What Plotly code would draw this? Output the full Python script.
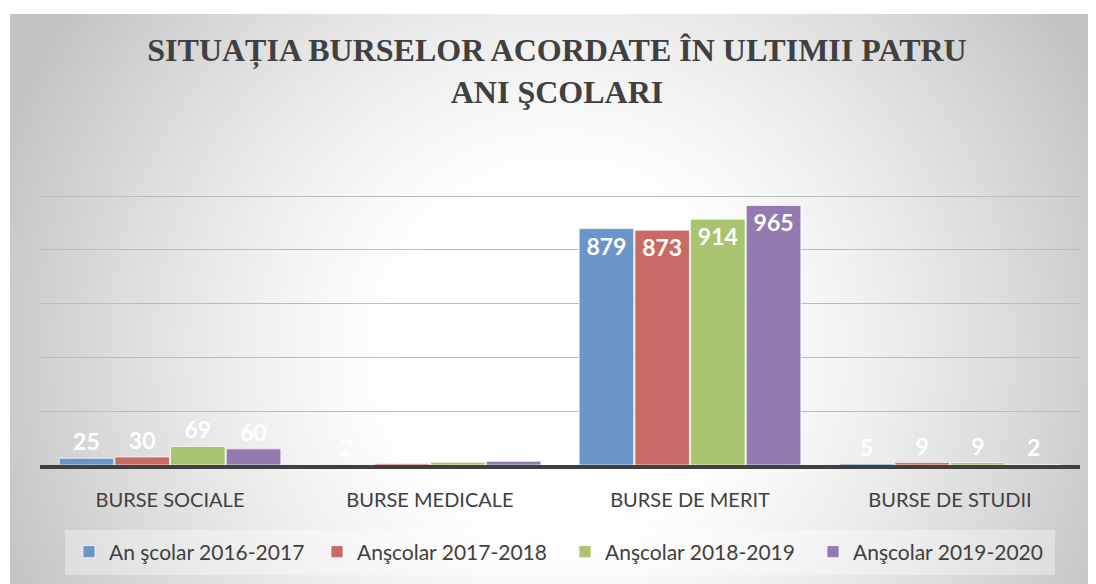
import zlib, struct, base64
import numpy as np
import plotly.graph_objects as go

categories = ["BURSE SOCIALE", "BURSE MEDICALE", "BURSE DE MERIT", "BURSE DE STUDII"]
series_names = ["An şcolar 2016-2017", "Anşcolar 2017-2018", "Anşcolar 2018-2019", "Anşcolar 2019-2020"]
values_2016_2017 = [25, 2, 879, 5]
values_2017_2018 = [30, 5, 873, 9]
values_2018_2019 = [69, 10, 914, 9]
values_2019_2020 = [60, 14, 965, 2]
series_values = [values_2016_2017, values_2017_2018, values_2018_2019, values_2019_2020]
colors = ["#6a95c8", "#c96a66", "#a9c46e", "#937ab0"]
title_text = "<b>SITUAȚIA BURSELOR ACORDATE ÎN ULTIMII PATRU<br>ANI ŞCOLARI</b>"

W, H = 1096, 584
OFF = 8  # page body margin offset
# screen positions of the plot area
SX0, SX1, SY0, SY1 = 40, 1080, 142, 465
ML, MT = SX0 - OFF, SY0 - OFF
MR, MB = W - (SX1 - OFF), H - (SY1 - OFF)
PW, PH = SX1 - SX0, SY1 - SY0

def px_x(sx):  # screen x -> paper x
    return (sx - SX0) / PW

def px_y(sy):  # screen y -> paper y
    return (SY1 - sy) / PH

# radial gradient background image (style only)
def png_uri(arr):
    h, w, _ = arr.shape
    raw = b"".join(b"\x00" + arr[i].tobytes() for i in range(h))
    def chunk(t, d):
        c = struct.pack(">I", len(d)) + t + d
        return c + struct.pack(">I", zlib.crc32(t + d) & 0xffffffff)
    png = (b"\x89PNG\r\n\x1a\n" + chunk(b"IHDR", struct.pack(">IIBBBBB", w, h, 8, 2, 0, 0, 0))
           + chunk(b"IDAT", zlib.compress(raw, 9)) + chunk(b"IEND", b""))
    return "data:image/png;base64," + base64.b64encode(png).decode()

fx0, fy0, fx1, fy1 = 10, 14, 1096 + OFF, 584 + OFF
fw, fh = fx1 - fx0, fy1 - fy0
sc = 2
gx = (np.arange(fw // sc) * sc + fx0)[None, :]
gy = (np.arange(fh // sc) * sc + fy0)[:, None]
t = np.sqrt((gx - 560.0) ** 2 + (gy - 350.0) ** 2) / 545.0
v = 255 - 60 * np.clip((t - 0.3) / 0.8, 0, 1) ** 1.3
v = np.clip(v, 0, 255).astype(np.uint8)
img = np.stack([v, v, v], axis=-1)
bg_uri = png_uri(img)

FONT = "Lato"
fig = go.Figure()
for name, vals, col in zip(series_names, series_values, colors):
    lab = dict(family=FONT, size=23, color="white", weight="bold")
    fig.add_trace(go.Bar(
        x=categories, y=vals, name=name,
        marker=dict(color=col, line=dict(color="rgba(255,255,255,0.7)", width=1)),
        text=[str(x) for x in vals],
        textposition=["inside" if x > 100 else "outside" for x in vals],
        insidetextanchor="end",
        textangle=0,
        textfont=lab, outsidetextfont=lab, insidetextfont=lab,
        cliponaxis=False,
    ))

fig.update_layout(
    width=W, height=H,
    margin=dict(l=ML, r=MR, t=MT, b=MB),
    paper_bgcolor="white",
    plot_bgcolor="rgba(0,0,0,0)",
    barmode="group",
    bargap=0.143,
    bargroupgap=0.02,
    title=dict(text=title_text, x=(557 - OFF) / W, xanchor="center", y=1 - 53 / H, yanchor="top",
               font=dict(family="Liberation Serif", size=32, color="#404040")),
    showlegend=True,
    legend=dict(orientation="h", x=px_x(69), xanchor="left",
                y=px_y(552), yanchor="middle",
                bgcolor="rgba(0,0,0,0)", font=dict(family=FONT, size=21, color="#404040"),
                entrywidth=203, entrywidthmode="pixels", itemwidth=30),
    images=[dict(source=bg_uri, xref="paper", yref="paper",
                 x=px_x(fx0), y=px_y(fy0),
                 sizex=fw / PW, sizey=fh / PH, sizing="stretch",
                 xanchor="left", yanchor="top", layer="below")],
    shapes=[dict(type="rect", xref="paper", yref="paper", layer="below",
                 x0=px_x(65), x1=px_x(1055), y0=px_y(575), y1=px_y(530),
                 fillcolor="rgba(255,255,255,0.35)", line=dict(width=0))],
)
fig.update_xaxes(showline=True, linecolor="#404040", linewidth=4, ticks="",
                 tickfont=dict(family=FONT, size=20, color="#404040"),
                 ticklabelstandoff=14, showgrid=False)
fig.update_yaxes(range=[0, 1201], dtick=200, showticklabels=False, showgrid=True,
                 gridcolor="#bcbcbc", gridwidth=1, zeroline=False, showline=False)

fig.write_html("out.html")
